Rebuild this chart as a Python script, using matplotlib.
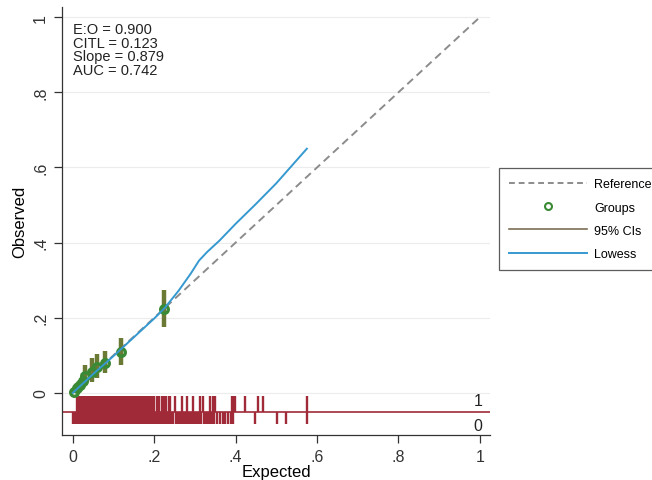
import numpy as np
import matplotlib
matplotlib.use("Agg")
import matplotlib.pyplot as plt
from matplotlib.lines import Line2D

plt.rcParams['font.family'] = ['Liberation Sans', 'DejaVu Sans']

# grouped calibration points (expected, observed, 95% CI)
grp_exp = [0.003, 0.010, 0.017, 0.024, 0.030, 0.046, 0.058, 0.079, 0.118, 0.224]
grp_obs = [0.002, 0.012, 0.020, 0.030, 0.045, 0.055, 0.068, 0.080, 0.108, 0.224]
grp_lo = [0.000, 0.003, 0.008, 0.015, 0.025, 0.028, 0.038, 0.052, 0.074, 0.175]
grp_hi = [0.008, 0.025, 0.035, 0.052, 0.073, 0.093, 0.103, 0.112, 0.145, 0.274]

# lowess smoother
low_x = [0.0, 0.05, 0.10, 0.15, 0.20, 0.225, 0.26, 0.29, 0.31, 0.33, 0.36, 0.40, 0.45, 0.50, 0.575]
low_y = [0.0, 0.05, 0.098, 0.148, 0.198, 0.225, 0.272, 0.318, 0.352, 0.375, 0.405, 0.450, 0.503, 0.558, 0.650]

# rug: predicted risk of events (1) and non-events (0)
rug1 = [0.009, 0.012, 0.015, 0.018, 0.021, 0.024, 0.027, 0.030, 0.033, 0.036,
        0.039, 0.042, 0.045, 0.048, 0.051, 0.054, 0.057, 0.060, 0.063, 0.066,
        0.069, 0.072, 0.075, 0.078, 0.081, 0.084, 0.087, 0.090, 0.093, 0.096,
        0.099, 0.102, 0.105, 0.108, 0.111, 0.114, 0.117, 0.121, 0.124, 0.128,
        0.131, 0.135, 0.139, 0.142, 0.146, 0.150, 0.154, 0.158, 0.163, 0.166,
        0.171, 0.175, 0.180, 0.184, 0.190, 0.195, 0.200, 0.206, 0.212, 0.218,
        0.224, 0.229, 0.235, 0.239, 0.251, 0.267, 0.281, 0.296, 0.312, 0.320,
        0.337, 0.345, 0.349, 0.390, 0.394, 0.399, 0.423, 0.456, 0.468, 0.575]
rug0 = [0.001, 0.003, 0.005, 0.007, 0.009, 0.011, 0.013, 0.015, 0.017, 0.019,
        0.021, 0.023, 0.025, 0.027, 0.029, 0.031, 0.033, 0.035, 0.037, 0.039,
        0.041, 0.043, 0.045, 0.047, 0.049, 0.051, 0.053, 0.055, 0.057, 0.059,
        0.061, 0.063, 0.065, 0.067, 0.069, 0.071, 0.073, 0.075, 0.077, 0.079,
        0.081, 0.083, 0.085, 0.087, 0.089, 0.091, 0.093, 0.095, 0.097, 0.099,
        0.102, 0.105, 0.108, 0.111, 0.114, 0.117, 0.120, 0.123, 0.126, 0.129,
        0.132, 0.135, 0.138, 0.141, 0.144, 0.147, 0.150, 0.153, 0.156, 0.159,
        0.162, 0.165, 0.168, 0.171, 0.174, 0.177, 0.180, 0.183, 0.186, 0.189,
        0.192, 0.195, 0.198, 0.201, 0.204, 0.208, 0.212, 0.216, 0.221, 0.226,
        0.231, 0.236, 0.242, 0.247, 0.253, 0.258, 0.264, 0.268, 0.273, 0.278,
        0.283, 0.287, 0.292, 0.297, 0.301, 0.306, 0.311, 0.316, 0.322, 0.327,
        0.333, 0.338, 0.343, 0.348, 0.355, 0.361, 0.368, 0.375, 0.382, 0.389,
        0.394, 0.448, 0.501, 0.524, 0.575]

stats_txt = ["E:O = 0.900", "CITL = 0.123", "Slope = 0.879", "AUC = 0.742"]

c_ref = '#8c8c8c'
c_grp = '#3a8a35'
c_ci = '#6a7a35'
c_low = '#3599d0'
c_rug = '#a02a38'

fig = plt.figure(figsize=(6.52, 4.81), dpi=100)
ax = fig.add_axes([0.095, 0.094, 0.657, 0.889])

ax.set_xlim(-0.027, 1.026)
ax.set_ylim(-0.112, 1.027)

for yv in [0, 0.2, 0.4, 0.6, 0.8, 1.0]:
    ax.axhline(yv, color='#ececec', lw=0.8, zorder=0)

ax.plot([0, 1], [0, 1], color=c_ref, lw=1.4, ls=(0, (4, 2.5)), zorder=2)
ax.vlines(grp_exp, grp_lo, grp_hi, color=c_ci, lw=3.2, zorder=3)
ax.plot(grp_exp, grp_obs, 'o', ms=5.5, mfc='none', mec=c_grp, mew=2.4, zorder=4)
ax.plot(low_x, low_y, color=c_low, lw=1.4, zorder=5)

ax.vlines(rug1, -0.051, -0.008, color=c_rug, lw=1.7, zorder=2)
ax.vlines(rug0, -0.084, -0.051, color=c_rug, lw=1.7, zorder=2)
ax.axhline(-0.0513, color=c_rug, lw=1.2, zorder=2)
ax.text(0.996, -0.020, "1", ha='center', va='center', fontsize=11.5, color='#222222')
ax.text(0.996, -0.087, "0", ha='center', va='center', fontsize=11.5, color='#222222')

ax.text(0.0, 0.987, "\n".join(stats_txt), ha='left', va='top', fontsize=10.5,
        linespacing=0.95, color='#222222')

ax.set_xticks([0, 0.2, 0.4, 0.6, 0.8, 1.0])
ax.set_xticklabels(["0", ".2", ".4", ".6", ".8", "1"])
ax.set_yticks([0, 0.2, 0.4, 0.6, 0.8, 1.0])
ax.set_yticklabels(["0", ".2", ".4", ".6", ".8", "1"], rotation=90, va='center')
ax.tick_params(direction='out', length=6, width=0.9, colors='#333333', labelsize=11.5, pad=4)
for s in ['top', 'right']:
    ax.spines[s].set_visible(False)
for s in ['left', 'bottom']:
    ax.spines[s].set_color('#333333')
    ax.spines[s].set_linewidth(0.9)

ax.set_xlabel("Expected", fontsize=12, labelpad=0)
ax.set_ylabel("Observed", fontsize=12, labelpad=4)

handles = [
    Line2D([], [], color=c_ref, lw=1.4, ls=(0, (3, 2))),
    Line2D([], [], ls='none', marker='o', ms=5, mfc='none', mec=c_grp, mew=1.5),
    Line2D([], [], color='#7a6e55', lw=1.2),
    Line2D([], [], color=c_low, lw=1.4),
]
labels = ["Reference", "Groups", "95% CIs", "Lowess"]
leg = fig.legend(handles, labels, loc='upper left', bbox_to_anchor=(0.756, 0.661),
                 fontsize=9, frameon=True, fancybox=False, edgecolor='#333333',
                 handlelength=6.2, handletextpad=0.6, labelspacing=0.9, borderpad=0.8)
leg.get_frame().set_linewidth(0.9)

fig.savefig("out.png", dpi=100)
